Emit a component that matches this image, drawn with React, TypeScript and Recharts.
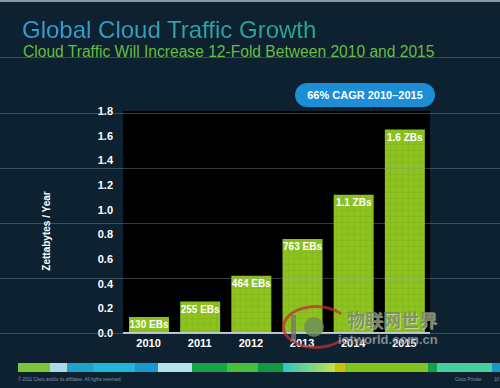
import { BarChart, Bar, XAxis, YAxis, CartesianGrid, LabelList } from 'recharts'

const years = ['2010', '2011', '2012', '2013', '2014', '2015']
const traffic = [0.13, 0.255, 0.464, 0.763, 1.12, 1.65]
const barLabels = ['130 EBs', '255 EBs', '464 EBs', '763 EBs', '1.1 ZBs', '1.6 ZBs']
const yTicks = [0, 0.2, 0.4, 0.6, 0.8, 1.0, 1.2, 1.4, 1.6, 1.8]

const data = years.map((year, i) => ({ year, traffic: traffic[i], label: barLabels[i] }))

// decorative colour strip along the bottom of the slide: [colour, width]
const strip: [string, number][] = [
  ['#7cc635', 32], ['#a8dbe8', 17], ['#1ea3c6', 26], ['#22b5d6', 42], ['#1a97cf', 23],
  ['#b4e1ea', 34], ['#14a844', 35], ['#45bf3c', 31], ['#119a42', 25],
  ['linear-gradient(90deg,#2cc6c4,#c4e04a)', 52], ['#c9c20a', 10], ['#84c21d', 83],
  ['#12a052', 9], ['#45d0a0', 55], ['#1a98c0', 8],
]
const slideLines = [57, 113, 168, 223, 278, 333]

const font = '"Liberation Sans", Arial, sans-serif'
const bg = '#0d2130'

// single-line label at the top inside each bar
const renderBarLabel = (p: any) => (
  <text x={p.x + p.width / 2} y={p.y + 3} dy="0.8em" textAnchor="middle" fill="#fff"
    fontSize={10} fontWeight="bold" fontFamily={font}>
    {p.value}
  </text>
)

export default function App() {
  return (
    <div style={{ position: 'absolute', left: 0, top: 0, width: 500, height: 388, background: bg, overflow: 'hidden', fontFamily: font }}>
      <div style={{ position: 'absolute', left: 0, top: 0, width: 500, height: 2, background: '#8d9aa3' }} />
      <div
        style={{
          position: 'absolute', left: 22, top: 18, fontSize: 24, lineHeight: '24px', whiteSpace: 'nowrap',
          background: 'linear-gradient(90deg,#3a9bd4,#2aa68c)', WebkitBackgroundClip: 'text',
          backgroundClip: 'text', color: 'transparent',
        }}
      >
        Global Cloud Traffic Growth
      </div>
      <div style={{ position: 'absolute', left: 23, top: 44, fontSize: 15.6, lineHeight: '15px', color: '#66bd43', whiteSpace: 'nowrap' }}>
        Cloud Traffic Will Increase 12-Fold Between 2010 and 2015
      </div>

      <BarChart width={500} height={388} data={data} margin={{ top: 111, right: 70, left: 0, bottom: 35 }}
        style={{ position: 'absolute', left: 0, top: 0 }}>
        <defs>
          <pattern id="barTexture" width="6" height="6" patternUnits="userSpaceOnUse">
            <rect width="6" height="6" fill="#8cc31f" />
            <path d="M0 0.5H6M0.5 0V6" stroke="#7fb21a" strokeWidth="1" opacity="0.5" />
          </pattern>
        </defs>
        <CartesianGrid horizontal={false} vertical={false} fill="#000" />
        <XAxis dataKey="year" height={20} tickLine={false} tickSize={0} tickMargin={6}
          axisLine={{ stroke: '#c4ccd2', strokeWidth: 2 }}
          tick={{ fill: '#fff', fontSize: 11, fontWeight: 'bold', fontFamily: font }} />
        <YAxis domain={[0, 1.8]} ticks={yTicks} width={123} axisLine={false} tickLine={false}
          tickSize={0} tickMargin={10} tickFormatter={(v: number) => v.toFixed(1)}
          tick={{ fill: '#fff', fontSize: 11, fontWeight: 'bold', fontFamily: font }} />
        <Bar dataKey="traffic" barSize={40} fill="url(#barTexture)" isAnimationActive={false}>
          <LabelList dataKey="label" content={renderBarLabel} />
        </Bar>
      </BarChart>

      {slideLines.map(y => (
        <div key={y} style={{ position: 'absolute', left: 0, top: y, width: 500, height: 1, background: 'rgba(140,165,180,0.35)', pointerEvents: 'none' }} />
      ))}

      <div style={{
        position: 'absolute', left: 46, top: 231, transform: 'translate(-50%,-50%) rotate(-90deg)',
        whiteSpace: 'nowrap', color: '#fff', fontSize: 10, fontWeight: 'bold',
      }}>
        Zettabytes / Year
      </div>

      <div style={{
        position: 'absolute', left: 295, top: 83, width: 140, height: 24, borderRadius: 12,
        background: '#1b8ed6', color: '#fff', fontSize: 11, fontWeight: 'bold',
        display: 'flex', alignItems: 'center', justifyContent: 'center', whiteSpace: 'nowrap',
      }}>
        66% CAGR 2010–2015
      </div>

      {/* watermark */}
      <div style={{ position: 'absolute', left: 278, top: 303, width: 170, height: 48, pointerEvents: 'none' }}>
        <div style={{ position: 'absolute', left: 4, top: 2, width: 62, height: 38, borderRadius: '50%', border: '3px solid rgba(190,50,45,0.75)', borderRightColor: 'transparent' }} />
        <div style={{ position: 'absolute', left: 26, top: 14, width: 20, height: 20, borderRadius: '50%', background: 'rgba(110,140,90,0.8)' }} />
        <div style={{ position: 'absolute', left: 13, top: 12, width: 5, height: 26, background: 'rgba(120,120,110,0.8)' }} />
        <div style={{ position: 'absolute', left: 69, top: 6, fontSize: 18, lineHeight: '20px', fontWeight: 'bold', fontFamily: '"Noto Sans CJK SC", sans-serif', color: 'rgba(120,135,95,0.85)', textShadow: '1px 1px 0 rgba(230,230,230,0.6)', whiteSpace: 'nowrap' }}>
          物联网世界
        </div>
        <div style={{ position: 'absolute', left: 60, top: 30, fontSize: 13, lineHeight: '14px', fontWeight: 'bold', color: 'rgba(190,195,200,0.75)', WebkitTextStroke: '0.5px rgba(60,60,60,0.6)', whiteSpace: 'nowrap' }}>
          iotworld.com.cn
        </div>
      </div>

      <div style={{ position: 'absolute', left: 18, top: 363, height: 9, display: 'flex' }}>
        {strip.map(([c, w], i) => (
          <div key={i} style={{ width: w, height: 9, background: c }} />
        ))}
      </div>
      <div style={{ position: 'absolute', left: 18, top: 377, fontSize: 4.5, color: '#8796a2', whiteSpace: 'nowrap' }}>
        © 2011 Cisco and/or its affiliates. All rights reserved.
      </div>
      <div style={{ position: 'absolute', left: 455, top: 377, fontSize: 4.5, color: '#8796a2', whiteSpace: 'nowrap' }}>
        Cisco Private
      </div>
      <div style={{ position: 'absolute', left: 494, top: 377, fontSize: 4.5, color: '#8796a2', whiteSpace: 'nowrap' }}>
        10
      </div>
    </div>
  )
}
